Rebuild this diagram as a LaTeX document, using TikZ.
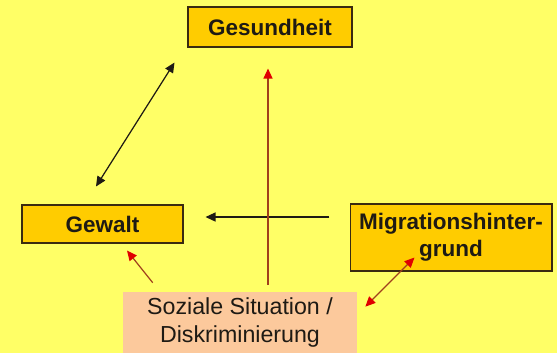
\documentclass[tikz,border=0pt]{standalone}
\usepackage{fontspec}
\setmainfont{Liberation Sans}
\usetikzlibrary{calc,arrows.meta}
\definecolor{bgyellow}{HTML}{FFFF66}
\definecolor{boxorange}{HTML}{FFCC00}
\definecolor{boxline}{HTML}{3A2A10}
\definecolor{peach}{HTML}{FCC99C}
\definecolor{linebrown}{HTML}{A0401C}
\definecolor{tipred}{HTML}{E00000}
\definecolor{inkdark}{HTML}{1E1A14}

\begin{document}
\begin{tikzpicture}[x=0.02cm, y=-0.02cm,
    factor/.style={draw=boxline, line width=0.6pt, fill=boxorange, align=center,
                   inner sep=0pt, text=inkdark, font=\fontsize{12.8}{15.3}\selectfont\bfseries},
    cause/.style={fill=peach, align=center, inner sep=0pt, text=inkdark,
                  font=\fontsize{13.2}{16}\selectfont, minimum width=4.68cm, minimum height=1.22cm},
    link/.style={{Triangle[length=2mm,width=1.8mm]}-{Triangle[length=2mm,width=1.8mm]},
                 draw=inkdark, line width=0.7pt},
    push/.style={-{Triangle[length=2mm,width=1.8mm]}, draw=inkdark, line width=0.7pt},
    effect/.style={-{Triangle[length=2mm,width=1.8mm,color=tipred]}, draw=linebrown, line width=0.7pt},
    mutual/.style={{Triangle[length=2mm,width=1.8mm,color=tipred]}-{Triangle[length=2mm,width=1.8mm,color=tipred]},
                   draw=linebrown, line width=0.7pt}
  ]
    \fill[bgyellow] (0,0) rectangle (557,353);

    \node[factor, minimum width=3.28cm, minimum height=0.80cm] (gesund) at (270,27)    {Gesundheit};
    \node[factor, minimum width=3.22cm, minimum height=0.76cm] (gewalt) at (102.5,224) {Gewalt};
    \node[factor, minimum width=4.04cm, minimum height=1.34cm] (migra)  at (451,237.5) {Migrationshinter-\\grund};
    \node[cause] (sozial) at (240,322.5) {Soziale Situation /\\Diskriminierung};

    % Gesundheit <-> Gewalt
    \draw[link] ($(gewalt.north)+(-6.5,-18)$) -- ($(gesund.south west)+(-13,15)$);
    % Migrationshintergrund -> Gewalt
    \draw[push] ($(migra.west)+(-20,-20.5)$) -- ($(gewalt.east)+(22,-7)$);

    % Soziale Situation wirkt auf alle
    \draw[effect] ($(sozial.north)+(28,-7)$) -- ($(gesund.south)+(-2,21)$);
    \draw[effect] ($(sozial.north west)+(30,-9)$) -- ($(gewalt.south)+(24.5,7)$);
    \draw[mutual] ($(sozial.north east)+(8,15)$) -- ($(migra.south west)+(65,-14)$);
  \end{tikzpicture}
\end{document}
